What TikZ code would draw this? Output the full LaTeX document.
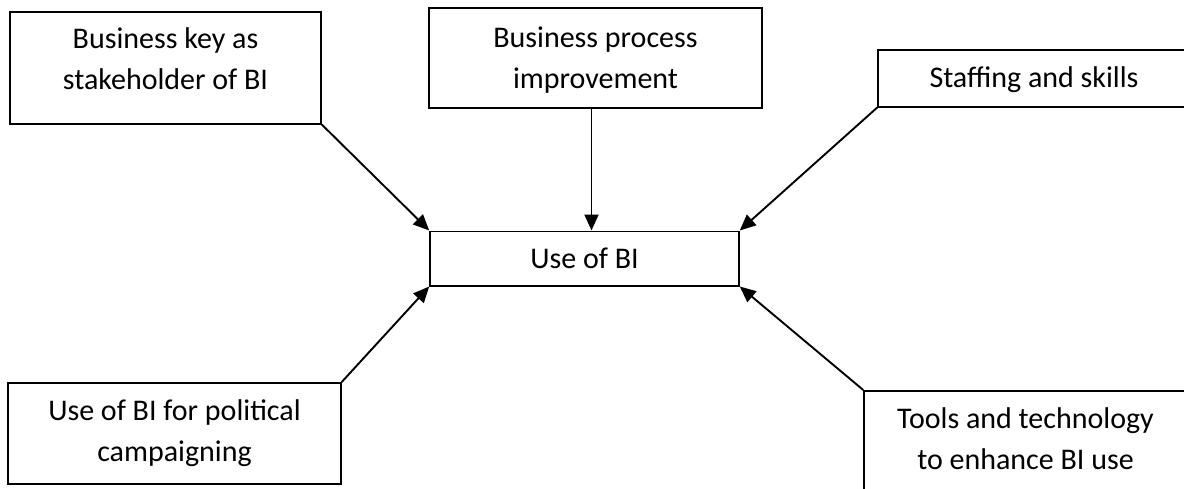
\documentclass[tikz,border=0pt]{standalone}
\usepackage{fontspec}
\setmainfont{Carlito}
\usepackage{tikz}
\usetikzlibrary{positioning, arrows.meta}

\tikzset{
	box/.style={draw, line width=1.5pt, inner sep=0pt, anchor=north, align=center,
		font=\fontsize{30}{41}\selectfont},
	link/.style={-{Triangle[length=16pt, width=14pt]}, line width=1.9pt}
}

\begin{document}
\begin{tikzpicture}[x=1pt, y=-1pt]
			\clip	(0, 0) rectangle (1184, 488);
			\useasboundingbox	(0, 0) rectangle (1184, 488);
			\node	(key)	at	(165.5, 11)		[box, minimum width=311pt, text height=78pt, text depth=34pt]	{Business key as\\stakeholder of BI};
			\node	(proc)	at	(595.5, 7)		[box, minimum width=333pt, text height=81pt, text depth=19pt]	{Business process\\improvement};
			\node	(staff)	at	(1034, 49)		[box, minimum width=312pt, text height=37.5pt, text depth=19.5pt]	{Staffing and skills};
			\node	(use)	at	(584.5, 230.5)	[box, minimum width=309pt, text height=37.5pt, text depth=17pt]	{Use of BI};
			\node	(pol)	at	(174.5, 382)	[box, minimum width=333pt, text height=79pt, text depth=22pt]	{Use of BI for political\\campaigning};
			\node	(tools)	at	(1025.5, 390)	[box, minimum width=323pt, text height=79pt, text depth=40pt]	{Tools and technology\\to enhance BI use};

			\draw	[link]	(key.south east)	--	(use.north west);
			\draw	[link]	([xshift=-4pt]proc.south)	--	([xshift=-4pt]proc.south |- use.north);
			\draw	[link]	(staff.south west)	--	(use.north east);
			\draw	[link]	(pol.north east)	--	(use.south west);
			\draw	[link]	(tools.north west)	--	(use.south east);
		\end{tikzpicture}
\end{document}
